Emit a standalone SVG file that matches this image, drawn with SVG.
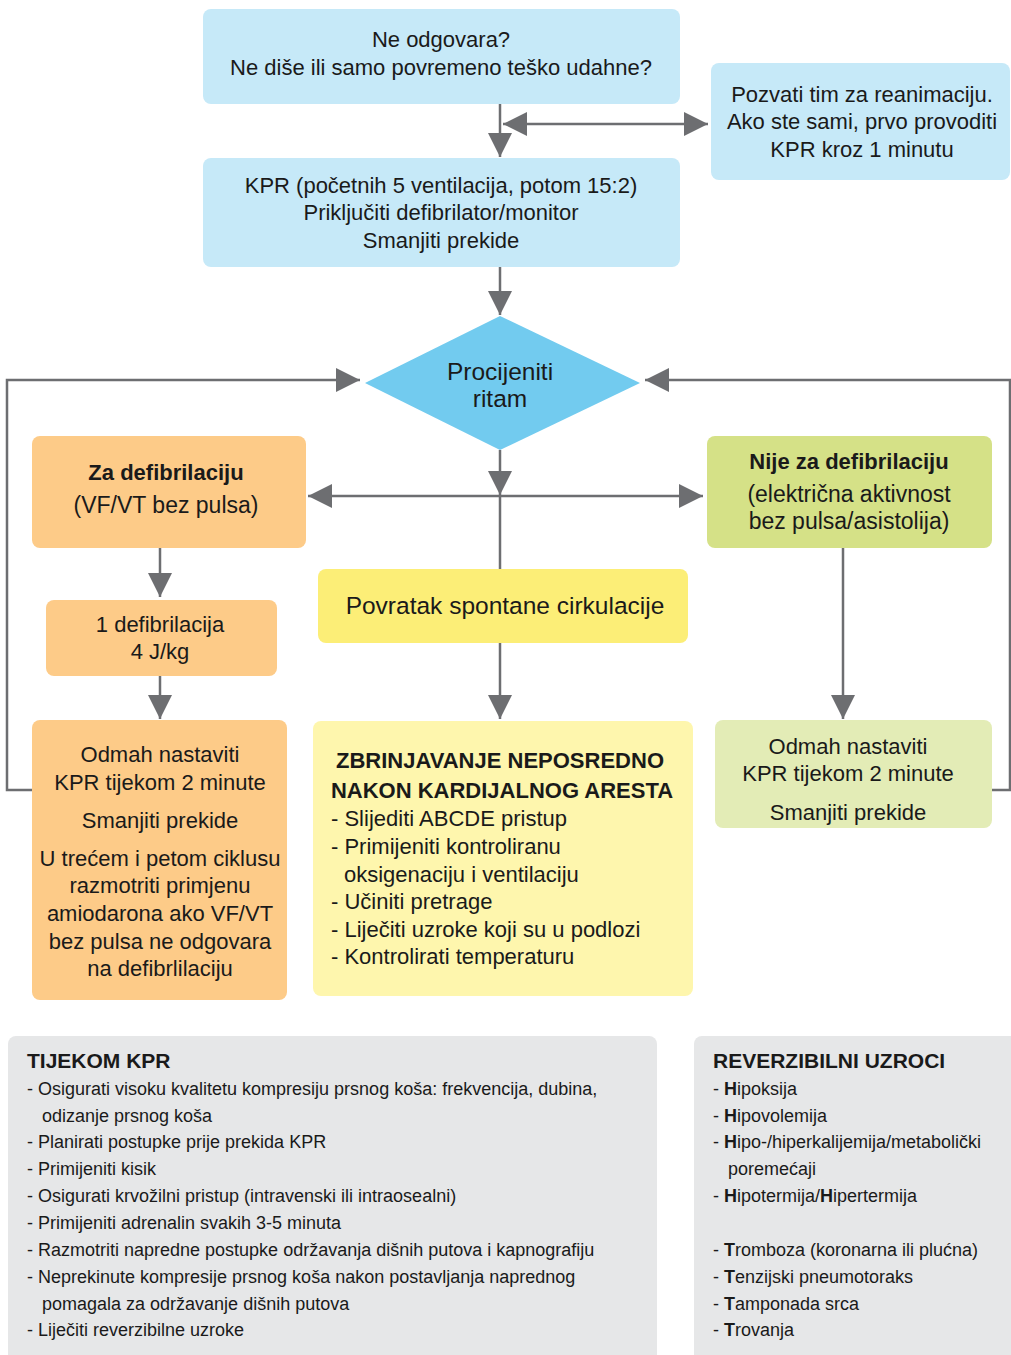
<svg xmlns="http://www.w3.org/2000/svg" width="1011" height="1355" viewBox="0 0 1011 1355">
  <style>
    text { font-family: "Liberation Sans", Arial, sans-serif; fill: #1a1a1a; }
    .n { font-size: 22px; text-anchor: middle; }
    .b { font-weight: bold; }
    .l { font-size: 22px; }
    .p { font-size: 18px; }
    .ph { font-size: 21px; font-weight: bold; }
    .con { stroke: #6d6e71; stroke-width: 2.5; fill: none; }
    .blue { fill: #c6e9f8; }
    .orange { fill: #fdcb88; }
    .green { fill: #d5e187; }
    .yellow { fill: #fcee77; }
    .pyellow { fill: #fef6ad; }
    .pgreen { fill: #e3ecb6; }
    .gray { fill: #e6e7e8; }
  </style>
  <defs>
    <marker id="arrow" markerUnits="userSpaceOnUse" markerWidth="24" markerHeight="24" refX="24" refY="12" orient="auto-start-reverse">
      <path d="M0,0 L24,12 L0,24 z" fill="#6d6e71"/>
    </marker>
  </defs>

  <rect width="1011" height="1355" fill="#ffffff"/>

  <!-- connectors -->
  <g id="connectors">
    <path class="con" d="M500,104 V157" marker-end="url(#arrow)"/>
    <path class="con" d="M503,124 H708" marker-start="url(#arrow)" marker-end="url(#arrow)"/>
    <path class="con" d="M500,267 V315" marker-end="url(#arrow)"/>
    <path class="con" d="M32,790 H7 V380 H360" marker-end="url(#arrow)"/>
    <path class="con" d="M992,790 H1010 V380 H645" marker-end="url(#arrow)"/>
    <path class="con" d="M500,450 V495" marker-end="url(#arrow)"/>
    <path class="con" d="M500,495 V570"/>
    <path class="con" d="M308,496 H703" marker-start="url(#arrow)" marker-end="url(#arrow)"/>
    <path class="con" d="M160,548 V597" marker-end="url(#arrow)"/>
    <path class="con" d="M160,676 V719" marker-end="url(#arrow)"/>
    <path class="con" d="M500,643 V719" marker-end="url(#arrow)"/>
    <path class="con" d="M843,548 V719" marker-end="url(#arrow)"/>
  </g>

  <!-- start: responsiveness check -->
  <g id="node-check">
    <rect class="blue" x="203" y="9" width="477" height="95" rx="8"/>
    <text class="n" x="441" y="47">Ne odgovara?</text>
    <text class="n" x="441" y="75">Ne diše ili samo povremeno teško udahne?</text>
  </g>

  <g id="node-call">
    <rect class="blue" x="711" y="63" width="299" height="117" rx="8"/>
    <text class="n" x="862" y="102">Pozvati tim za reanimaciju.</text>
    <text class="n" x="862" y="129">Ako ste sami, prvo provoditi</text>
    <text class="n" x="862" y="157">KPR kroz 1 minutu</text>
  </g>

  <g id="node-cpr">
    <rect class="blue" x="203" y="158" width="477" height="109" rx="8"/>
    <text class="n" x="441" y="193">KPR (početnih 5 ventilacija, potom 15:2)</text>
    <text class="n" x="441" y="220">Priključiti defibrilator/monitor</text>
    <text class="n" x="441" y="248">Smanjiti prekide</text>
  </g>

  <g id="node-rhythm">
    <polygon points="500,316 640,383 500,450 365,383" fill="#72cbef"/>
    <text class="n" x="500" y="380" style="font-size:24.5px">Procijeniti</text>
    <text class="n" x="500" y="407" style="font-size:24.5px">ritam</text>
  </g>

  <g id="node-shockable">
    <rect class="orange" x="32" y="436" width="274" height="112" rx="8"/>
    <text class="n b" x="166" y="480">Za defibrilaciju</text>
    <text class="n" x="166" y="513" style="font-size:23px">(VF/VT bez pulsa)</text>
  </g>

  <g id="node-nonshockable">
    <rect class="green" x="707" y="436" width="285" height="112" rx="8"/>
    <text class="n b" x="849" y="469">Nije za defibrilaciju</text>
    <text class="n" x="849" y="502" style="font-size:23px">(električna aktivnost</text>
    <text class="n" x="849" y="529" style="font-size:23px">bez pulsa/asistolija)</text>
  </g>

  <g id="node-shock">
    <rect class="orange" x="46" y="600" width="231" height="76" rx="8"/>
    <text class="n" x="160" y="632">1 defibrilacija</text>
    <text class="n" x="160" y="659">4 J/kg</text>
  </g>

  <g id="node-rosc">
    <rect class="yellow" x="318" y="569" width="370" height="74" rx="8"/>
    <text class="n" x="505" y="614" style="font-size:24.5px">Povratak spontane cirkulacije</text>
  </g>

  <g id="node-cpr-shockable">
    <rect class="orange" x="32" y="720" width="255" height="280" rx="8"/>
    <text class="n" x="160" y="762">Odmah nastaviti</text>
    <text class="n" x="160" y="790">KPR tijekom 2 minute</text>
    <text class="n" x="160" y="828">Smanjiti prekide</text>
    <text class="n" x="160" y="866">U trećem i petom ciklusu</text>
    <text class="n" x="160" y="893">razmotriti primjenu</text>
    <text class="n" x="160" y="921">amiodarona ako VF/VT</text>
    <text class="n" x="160" y="949">bez pulsa ne odgovara</text>
    <text class="n" x="160" y="976">na defibrlilaciju</text>
  </g>

  <g id="node-post-arrest">
    <rect class="pyellow" x="313" y="721" width="380" height="275" rx="8"/>
    <text class="n b" x="500" y="768">ZBRINJAVANJE NEPOSREDNO</text>
    <text class="n b" x="502" y="798">NAKON KARDIJALNOG ARESTA</text>
    <text class="l" x="331" y="826">- Slijediti ABCDE pristup</text>
    <text class="l" x="331" y="854">- Primijeniti kontroliranu</text>
    <text class="l" x="344" y="882">oksigenaciju i ventilaciju</text>
    <text class="l" x="331" y="909">- Učiniti pretrage</text>
    <text class="l" x="331" y="937">- Liječiti uzroke koji su u podlozi</text>
    <text class="l" x="331" y="964">- Kontrolirati temperaturu</text>
  </g>

  <g id="node-cpr-nonshockable">
    <rect class="pgreen" x="715" y="720" width="277" height="108" rx="8"/>
    <text class="n" x="848" y="754">Odmah nastaviti</text>
    <text class="n" x="848" y="781">KPR tijekom 2 minute</text>
    <text class="n" x="848" y="820">Smanjiti prekide</text>
  </g>

  <!-- information panels -->
  <g id="panel-during-cpr">
    <rect class="gray" x="8" y="1036" width="649" height="330" rx="8"/>
    <text class="ph" x="27" y="1068">TIJEKOM KPR</text>
    <text class="p" x="27" y="1095">- Osigurati visoku kvalitetu kompresiju prsnog koša: frekvencija, dubina,</text>
    <text class="p" x="42" y="1122">odizanje prsnog koša</text>
    <text class="p" x="27" y="1148">- Planirati postupke prije prekida KPR</text>
    <text class="p" x="27" y="1175">- Primijeniti kisik</text>
    <text class="p" x="27" y="1202">- Osigurati krvožilni pristup (intravenski ili intraosealni)</text>
    <text class="p" x="27" y="1229">- Primijeniti adrenalin svakih 3-5 minuta</text>
    <text class="p" x="27" y="1256">- Razmotriti napredne postupke održavanja dišnih putova i kapnografiju</text>
    <text class="p" x="27" y="1283">- Neprekinute kompresije prsnog koša nakon postavljanja naprednog</text>
    <text class="p" x="42" y="1310">pomagala za održavanje dišnih putova</text>
    <text class="p" x="27" y="1336">- Liječiti reverzibilne uzroke</text>
  </g>

  <g id="panel-reversible-causes">
    <rect class="gray" x="694" y="1036" width="330" height="330" rx="8"/>
    <text class="ph" x="713" y="1068">REVERZIBILNI UZROCI</text>
    <text class="p" x="713" y="1095">- <tspan class="b">H</tspan>ipoksija</text>
    <text class="p" x="713" y="1122">- <tspan class="b">H</tspan>ipovolemija</text>
    <text class="p" x="713" y="1148">- <tspan class="b">H</tspan>ipo-/hiperkalijemija/metabolički</text>
    <text class="p" x="728" y="1175">poremećaji</text>
    <text class="p" x="713" y="1202">- <tspan class="b">H</tspan>ipotermija/<tspan class="b">H</tspan>ipertermija</text>
    <text class="p" x="713" y="1256">- <tspan class="b">T</tspan>romboza (koronarna ili plućna)</text>
    <text class="p" x="713" y="1283">- <tspan class="b">T</tspan>enzijski pneumotoraks</text>
    <text class="p" x="713" y="1310">- <tspan class="b">T</tspan>amponada srca</text>
    <text class="p" x="713" y="1336">- <tspan class="b">T</tspan>rovanja</text>
  </g>
</svg>
